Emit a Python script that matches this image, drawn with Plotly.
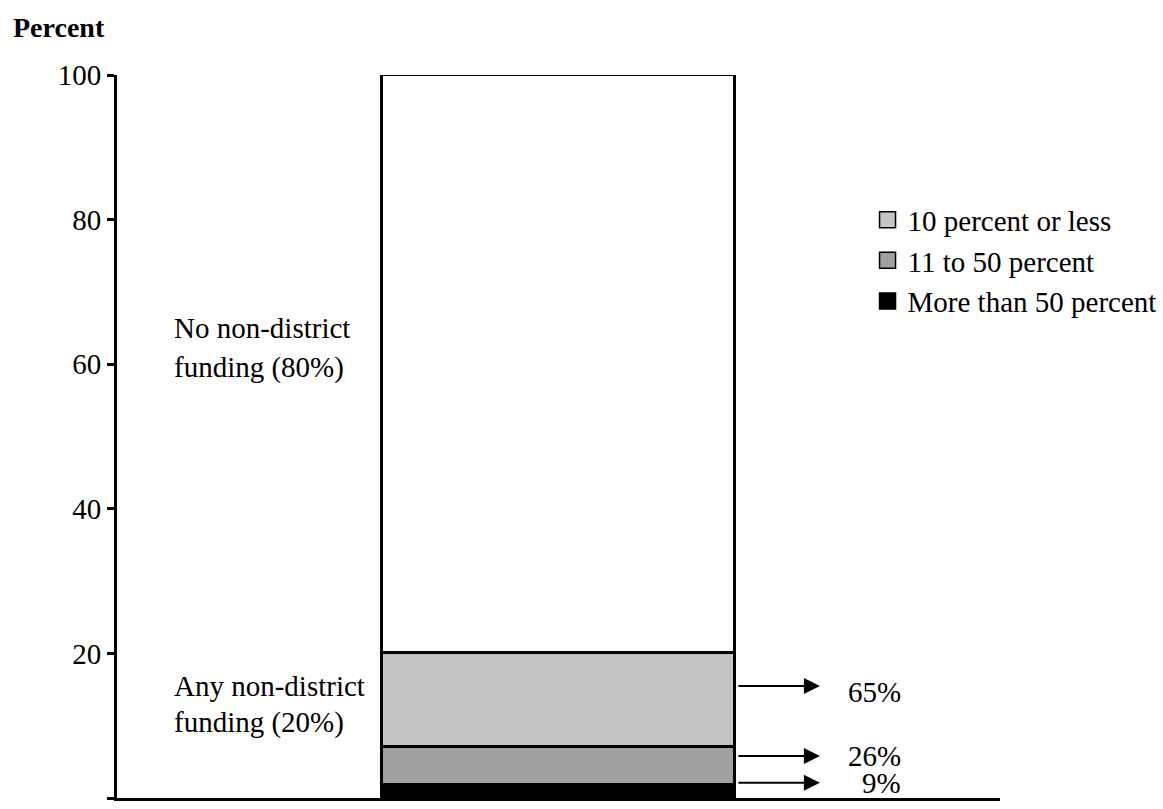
import plotly.graph_objects as go

# Share of schools by source of funding (stacked, bottom to top)
segments = ["More than 50 percent", "11 to 50 percent", "10 percent or less", "No non-district funding"]
values = [1.8, 5.2, 13.0, 80.0]
colors = ["#000000", "#a0a0a0", "#c4c4c4", "#ffffff"]
in_legend = [True, True, True, False]
legend_rank = [3, 2, 1, 4]

# Breakdown of the 20% with any non-district funding
breakdown_labels = ["65%", "26%", "9%"]
breakdown_arrow_y = [15.5, 5.8, 2.1]

y_ticks = [0, 20, 40, 60, 80, 100]

FONT = "Liberation Serif, Times New Roman, serif"

fig = go.Figure()
for name, val, col in zip(segments, values, colors):
    fig.add_trace(go.Bar(
        x=[0.5], y=[val], width=0.4, name=name,
        marker=dict(color=col, line=dict(color="black", width=3)),
        showlegend=False,
    ))

# Legend keys as square swatches
for name, col, leg, rank in zip(segments, colors, in_legend, legend_rank):
    if not leg:
        continue
    fig.add_trace(go.Scatter(
        x=[None], y=[None], mode="markers", name=name, legendrank=rank,
        marker=dict(symbol="square", size=16, color=col, line=dict(color="black", width=1.5)),
        showlegend=True,
    ))

annotations = [
    dict(text="<b>Percent</b>", xref="paper", yref="paper", x=-0.12, y=1.066,
         xanchor="left", yanchor="middle", showarrow=False, font=dict(size=28)),
    dict(text="No non-district", x=0.062, y=65.0, xanchor="left", yanchor="middle", showarrow=False),
    dict(text="funding (80%)", x=0.062, y=59.5, xanchor="left", yanchor="middle", showarrow=False),
    dict(text="Any non-district", x=0.062, y=15.5, xanchor="left", yanchor="middle", showarrow=False),
    dict(text="funding (20%)", x=0.062, y=10.5, xanchor="left", yanchor="middle", showarrow=False),
]
label_offsets = [-0.9, 0.0, 0.0]
for lab, ay, off in zip(breakdown_labels, breakdown_arrow_y, label_offsets):
    annotations.append(dict(
        x=0.796, y=ay, ax=0.702, ay=ay, xref="x", yref="y", axref="x", ayref="y",
        text="", showarrow=True, arrowhead=2, arrowsize=1.6, arrowwidth=2, arrowcolor="black",
    ))
    annotations.append(dict(
        text=lab, x=0.89, y=ay + off, xanchor="right", yanchor="middle", showarrow=False,
    ))

fig.update_layout(
    barmode="stack",
    width=1163, height=809,
    margin=dict(l=117, r=163, t=75, b=11, autoexpand=False),
    paper_bgcolor="white", plot_bgcolor="white",
    font=dict(family=FONT, size=29, color="black"),
    xaxis=dict(range=[0, 1], showgrid=False, zeroline=False, showticklabels=False,
               showline=True, linecolor="black", linewidth=3, ticks=""),
    yaxis=dict(range=[0, 100], tickvals=y_ticks, showgrid=False, zeroline=False,
               showline=True, linecolor="black", linewidth=3,
               ticks="outside", ticklen=7, tickwidth=3, tickcolor="black"),
    legend=dict(x=0.85, y=0.835, xanchor="left", yanchor="top", traceorder="normal",
                font=dict(size=29), bgcolor="rgba(0,0,0,0)"),
    annotations=annotations,
    bargap=0,
)

fig.write_html("out.html")
